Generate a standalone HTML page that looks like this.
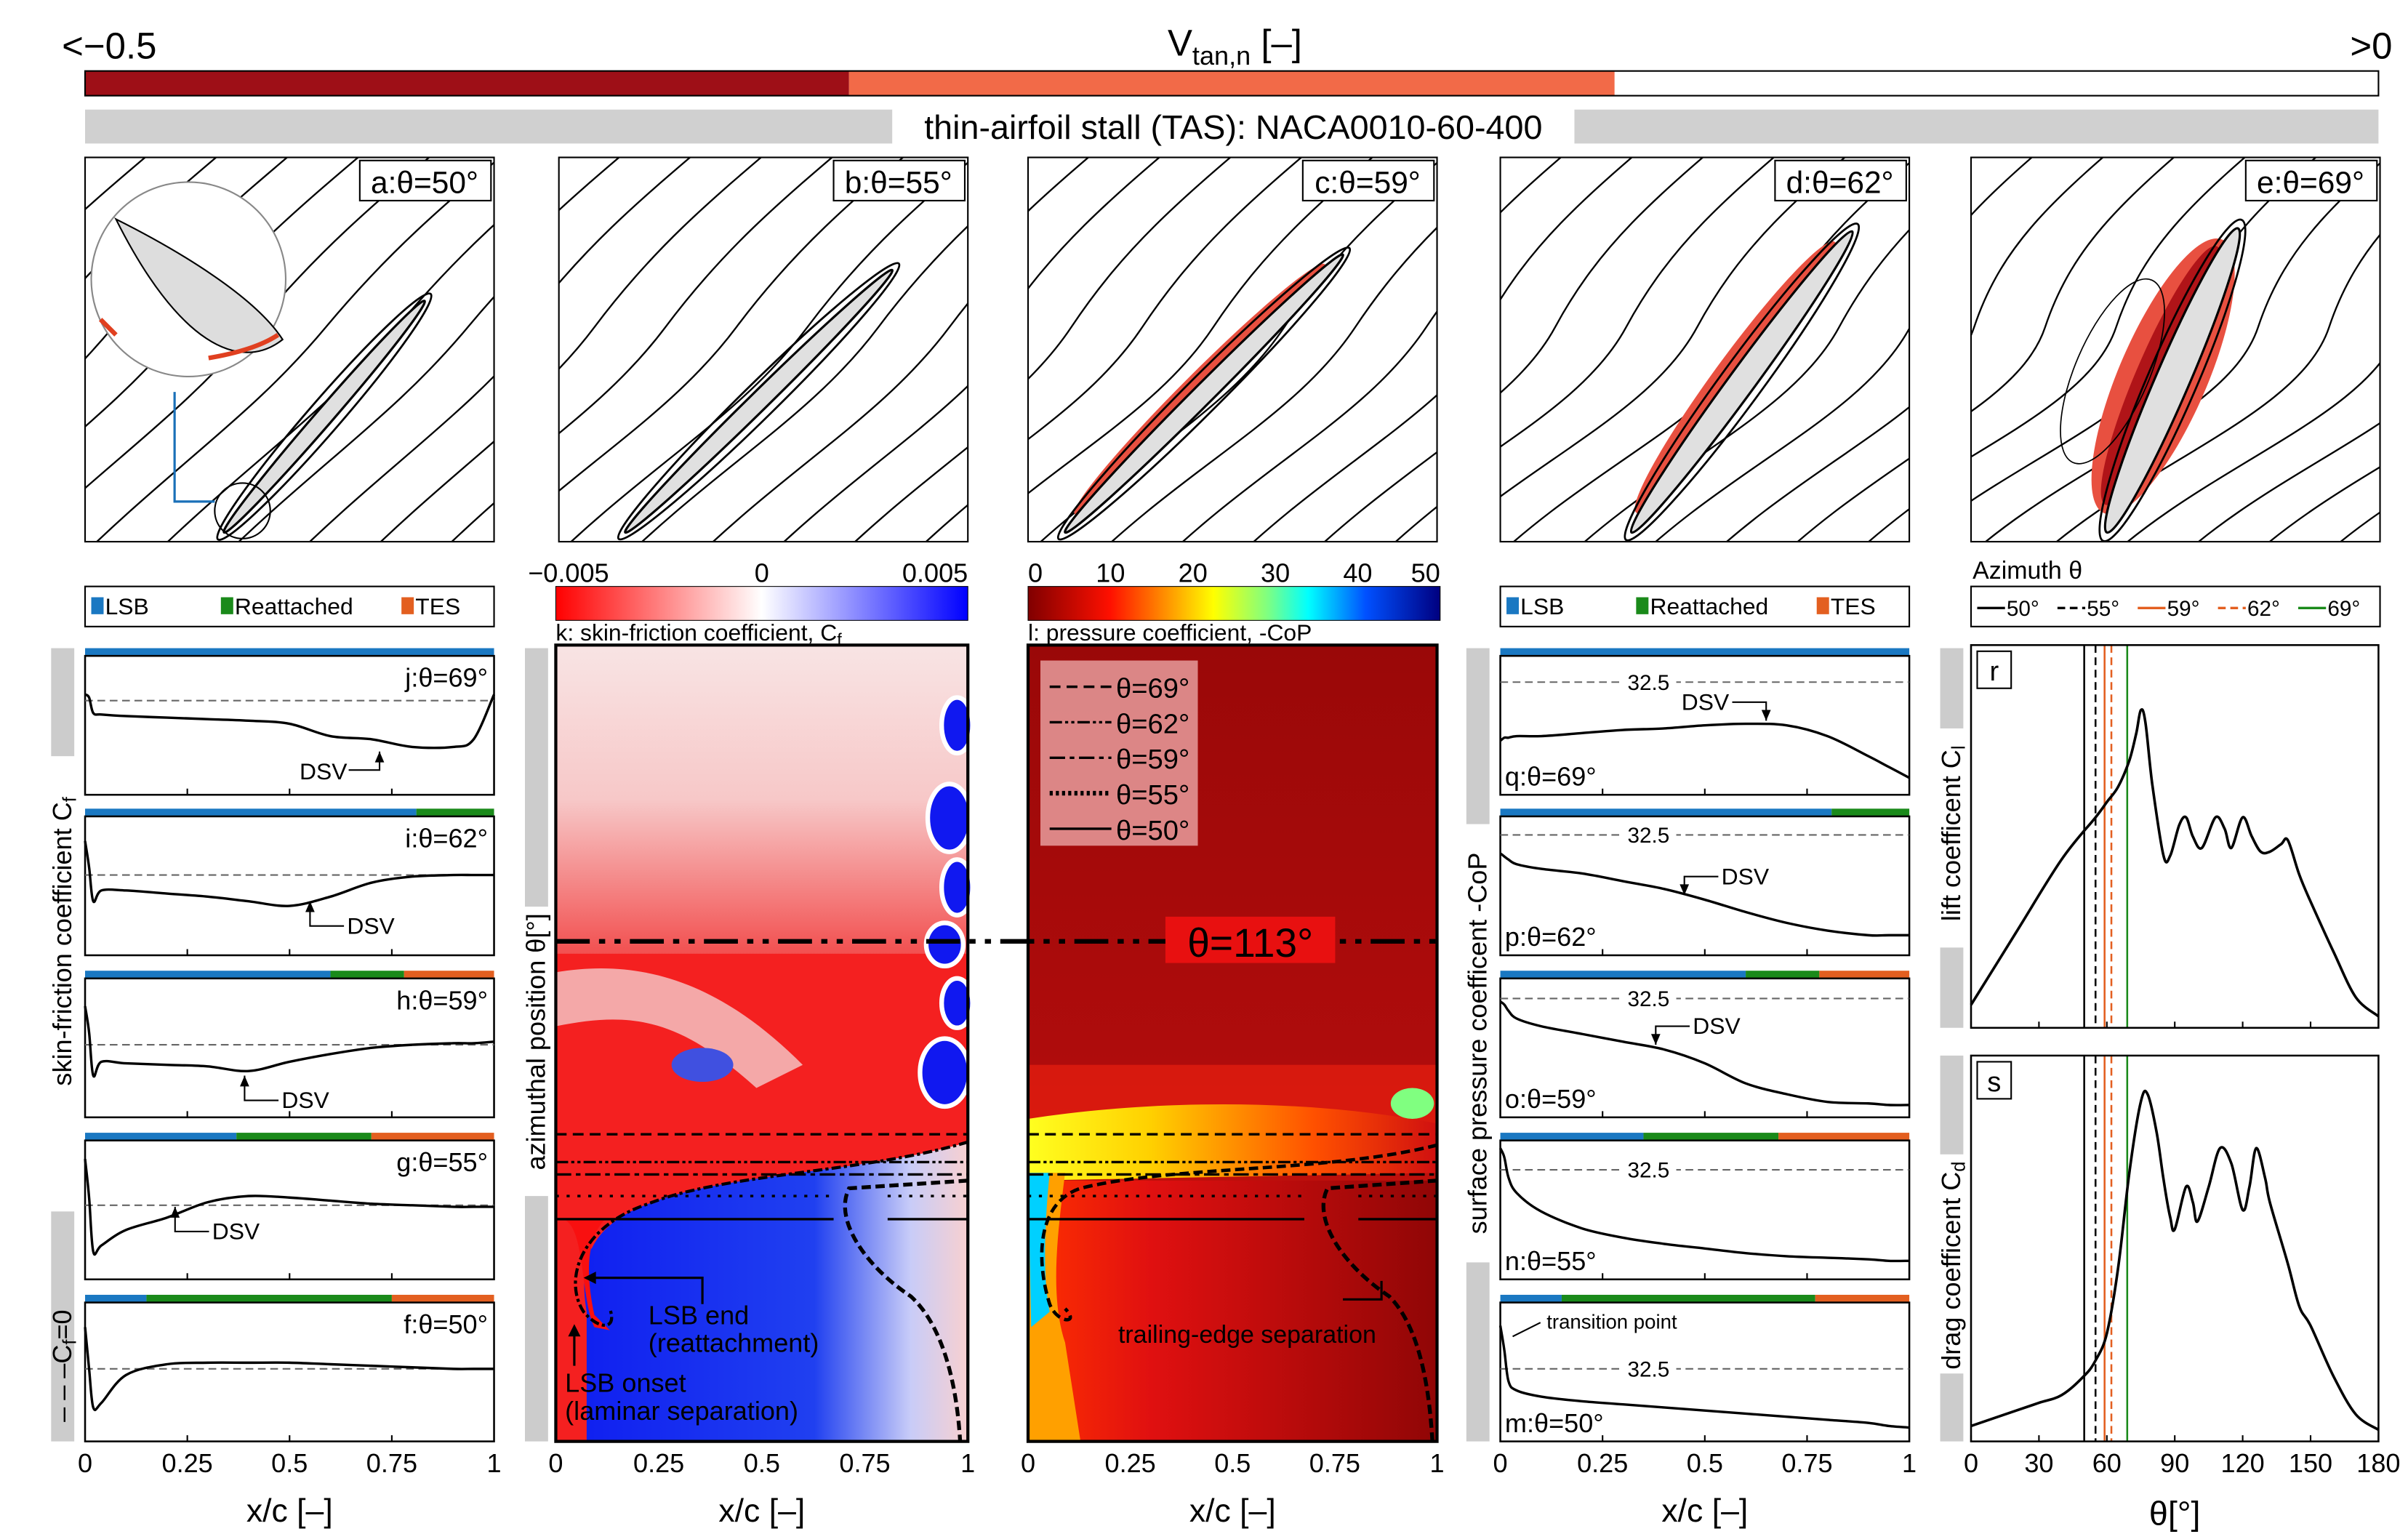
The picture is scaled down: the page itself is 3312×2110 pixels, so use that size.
<!DOCTYPE html>
<html><head><meta charset="utf-8"><style>
html,body{margin:0;padding:0;background:#fff}
svg{display:block;font-family:"Liberation Sans",sans-serif}
</style></head><body>
<svg id="fig" width="3312" height="2110" viewBox="0 0 1560 994" xmlns="http://www.w3.org/2000/svg">
<defs>
<linearGradient id="gCf" x1="0" x2="1" y1="0" y2="0"><stop offset="0" stop-color="#ff0000"/><stop offset="0.5" stop-color="#ffffff"/><stop offset="1" stop-color="#0000ff"/></linearGradient>
<linearGradient id="gCp" x1="0" x2="1"><stop offset="0" stop-color="#800000"/><stop offset="0.2" stop-color="#ff1000"/><stop offset="0.35" stop-color="#ffa000"/><stop offset="0.45" stop-color="#ffff00"/><stop offset="0.58" stop-color="#80ff80"/><stop offset="0.68" stop-color="#00ffff"/><stop offset="0.82" stop-color="#0050ff"/><stop offset="1" stop-color="#000080"/></linearGradient>
<linearGradient id="gKtop" x1="0" y1="0" x2="0" y2="1"><stop offset="0" stop-color="#f8e4e4"/><stop offset="0.5" stop-color="#f7c8c8"/><stop offset="1" stop-color="#f25050"/></linearGradient>
<linearGradient id="gKbot" x1="0" x2="1"><stop offset="0" stop-color="#1020f0"/><stop offset="0.6" stop-color="#2040f0"/><stop offset="0.85" stop-color="#c8ccf8"/><stop offset="1" stop-color="#f8d0d0"/></linearGradient>
<linearGradient id="gLtop" x1="0" y1="0" x2="0" y2="1"><stop offset="0" stop-color="#9a0808"/><stop offset="0.55" stop-color="#b00c0c"/><stop offset="1" stop-color="#e01a0a"/></linearGradient>
<linearGradient id="gLband" x1="0" x2="1"><stop offset="0" stop-color="#ffff20"/><stop offset="0.3" stop-color="#ffd000"/><stop offset="0.7" stop-color="#ff5000"/><stop offset="1" stop-color="#d01010"/></linearGradient>
<linearGradient id="gLbot" x1="0" x2="1"><stop offset="0" stop-color="#ff3000"/><stop offset="0.3" stop-color="#e01010"/><stop offset="1" stop-color="#900606"/></linearGradient>
</defs>
<g id="root"></g>
</svg>
<script>
// ---------- data ----------
const xSamples=[0,0.01,0.02,0.04,0.1,0.2,0.3,0.4,0.5,0.6,0.7,0.8,0.9,0.95,1];
const cfJ=[4,2,-8,-9,-10,-11,-12,-13,-15,-23,-25,-30,-30,-25,4];
const cfI=[22,5,-17,-10,-10,-12,-14,-17,-20,-14,-5,-1,0,0,0];
const cfH=[25,8,-20,-11,-12,-13,-14,-17,-11,-6,-2,0,1,1,2];
const cfG=[30,5,-30,-26,-16,-8,2,6,5,3,1,0,-1,-1,-1];
const cfF=[27,0,-25,-22,-4,3,4,4,4,3,2,1,0,0,0];
const cpQ=[-38,-36,-36,-35,-35,-33,-31,-30,-28,-27,-28,-35,-48,-55,-62];
const cpP=[-12,-14,-16,-19,-22,-25,-30,-35,-42,-50,-57,-62,-65,-65,-65];
const cpO=[-2,-4,-8,-13,-18,-23,-28,-33,-42,-55,-62,-67,-68,-69,-69];
const cpN=[14,8,-5,-15,-27,-38,-44,-48,-51,-54,-56,-57,-58,-59,-59];
const cpM=[28,12,-8,-14,-18,-21,-23,-25,-27,-29,-31,-33,-35,-37,-38];
const thetaR=[0,20,40,55,60,65,70,73,75,77,80,85,88,92,95,98,102,108,112,115,120,124,128,132,137,140,145,150,160,170,180];
const clVals=[0.06,0.25,0.44,0.55,0.59,0.63,0.70,0.77,0.83,0.80,0.64,0.45,0.45,0.53,0.55,0.50,0.47,0.55,0.52,0.47,0.55,0.50,0.46,0.46,0.48,0.49,0.40,0.33,0.20,0.08,0.03];
const thetaS=[0,20,30,40,50,55,60,65,70,75,78,82,85,88,90,95,98,100,105,110,115,120,123,126,130,132,140,145,150,160,170,180];
const cdVals=[0.04,0.08,0.10,0.12,0.17,0.21,0.28,0.45,0.70,0.88,0.90,0.80,0.68,0.58,0.55,0.66,0.62,0.57,0.66,0.76,0.72,0.60,0.66,0.76,0.68,0.62,0.46,0.35,0.30,0.17,0.07,0.03];
const snapTheta=[50,55,59,62,69];
const xTicks=["0","0.25","0.5","0.75","1"];
const thTicks=[0,30,60,90,120,150,180];
const cfTicks=["\u22120.005","0","0.005"];
const cpTicks=["0","10","20","30","40","50"];
const stripsCf=[[1,0,0],[0.81,0.19,0],[0.6,0.18,0.22],[0.37,0.33,0.3],[0.15,0.6,0.25]];
const stripsCp=[[1,0,0],[0.81,0.19,0],[0.6,0.18,0.22],[0.35,0.33,0.32],[0.15,0.62,0.23]];

// ---------- helpers ----------
const NS="http://www.w3.org/2000/svg";
const root=document.getElementById('root');
function mk(tag,at,parent){const e=document.createElementNS(NS,tag);for(const k in at)e.setAttribute(k,at[k]);(parent||root).appendChild(e);return e;}
function txt(x,y,s,size,anchor,parent,extra){const t=mk('text',Object.assign({x:x,y:y,'font-size':size,'text-anchor':anchor||'middle',fill:'#000'},extra||{}),parent);t.textContent=s;return t;}
function smooth(pts){let d='M'+pts[0][0].toFixed(1)+','+pts[0][1].toFixed(1);
  for(let i=0;i<pts.length-1;i++){const p0=pts[Math.max(0,i-1)],p1=pts[i],p2=pts[i+1],p3=pts[Math.min(pts.length-1,i+2)];
    const c1=[p1[0]+(p2[0]-p0[0])/6,p1[1]+(p2[1]-p0[1])/6],c2=[p2[0]-(p3[0]-p1[0])/6,p2[1]-(p3[1]-p1[1])/6];
    d+='C'+c1[0].toFixed(1)+','+c1[1].toFixed(1)+' '+c2[0].toFixed(1)+','+c2[1].toFixed(1)+' '+p2[0].toFixed(1)+','+p2[1].toFixed(1);}
  return d;}
const BLUE='#1a78c2',GREEN='#1a8a1a',ORANGE='#e35f20';

// ---------- header ----------
let e;
e=txt(800,36,'',24,'middle');
e.innerHTML='V<tspan font-size="17" dy="6">tan,n</tspan><tspan dy="-6"> [\u2013]</tspan>';
e=txt(40,38,'<\u22120.5',24,'start');
e=txt(1550,38,'>0',24,'end');
e=mk('rect',{x:55,y:46,width:495,height:16,fill:'#9e0f17'});
e=mk('rect',{x:550,y:46,width:496,height:16,fill:'#f26a48'});
e=mk('rect',{x:55,y:46,width:1486,height:16,fill:'none',stroke:'#000','stroke-width':1});
e=mk('rect',{x:55,y:71,width:1486,height:22,fill:'#d0d0d0'});
e=mk('rect',{x:578,y:70,width:442,height:24,fill:'#fff'});
e=txt(799,90,'thin-airfoil stall (TAS): NACA0010-60-400',22,'middle');

// ---------- snapshot panels ----------
const panelX=[55,362,666,972,1277];
const panelLbl=['a','b','c','d','e'];
const foils=[[90,243,220,93,11],[43,243,216,73,12],[24,243,204,63,13],[85,243,228,48,17],[88,243,173,46,22]];
const bend=[0,10,20,35,60];
panelX.forEach((px,i)=>{
  const g=mk('g',{transform:'translate('+px+',102)'});
  
  
  const cp=mk('clipPath',{id:'cp'+i},g);mk('rect',{x:0,y:0,width:265,height:249},cp);
  const inner=mk('g',{'clip-path':'url(#cp'+i+')'},g);
  for(let k=-5;k<10;k++){
    const x0=k*46-60;
    const s=mk('path',{d:'M'+x0+',270 C'+(x0+70)+','+(200)+' '+(x0+120+bend[i])+','+(170)+' '+(x0+170+bend[i]*0.5)+',110 S'+(x0+260)+',20 '+(x0+330)+',-40',fill:'none',stroke:'#000','stroke-width':1.1},inner);
    
    
  }
  const f=foils[i];const cx=(f[0]+f[2])/2,cy=(f[1]+f[3])/2;const L=Math.hypot(f[2]-f[0],f[3]-f[1]);const ang=Math.atan2(f[3]-f[1],f[2]-f[0])*180/Math.PI;
  const fg=mk('g',{transform:'translate('+cx+','+cy+') rotate('+ang+')'},inner);
  if(i>=2){e=mk('ellipse',{cx:0,cy:-f[4]*0.3,rx:L/2*0.9,ry:f[4]*(i==4?1.3:0.8),fill:'#e85040'},fg);}
  if(i==4){e=mk('ellipse',{cx:0,cy:-8,rx:L/2*0.85,ry:16,fill:'#b01418'},fg);
    e=mk('ellipse',{cx:-10,cy:-38,rx:L/2*0.6,ry:24,fill:'none',stroke:'#000','stroke-width':0.8},fg);}
  e=mk('ellipse',{cx:0,cy:0,rx:L/2+6,ry:f[4]/2+5,fill:'none',stroke:'#000','stroke-width':1.3},fg);
  e=mk('ellipse',{cx:0,cy:0,rx:L/2,ry:f[4]/2,fill:'#e0e0e0',stroke:'#000','stroke-width':1.5},fg);
  e=mk('rect',{x:0,y:0,width:265,height:249,fill:'none',stroke:'#000','stroke-width':1},g);
  e=mk('rect',{x:178,y:2,width:85,height:26,fill:'#fff',stroke:'#000','stroke-width':1},g);
  e=txt(220,23,panelLbl[i]+':\u03b8='+snapTheta[i]+'\u00b0',20,'middle',g);
  if(i==0){
    e=mk('circle',{cx:67,cy:79,r:63,fill:'#fff',stroke:'#888','stroke-width':1},g);
    e=mk('path',{d:'M20,40 C60,120 100,140 128,118 C110,90 60,60 20,40Z',fill:'#ddd',stroke:'#000'},g);
    e=mk('path',{d:'M10,105 l10,10 M80,130 q30,-5 45,-15',fill:'none',stroke:'#e04020','stroke-width':3},g);
    e=mk('circle',{cx:102,cy:229,r:18,fill:'none',stroke:'#000'},g);
    e=mk('path',{d:'M84,223 H58 V152',fill:'none',stroke:'#1a70b8','stroke-width':1.5},g);
  }
});

// ---------- legends ----------
function legendBox(x,names){
  const g=mk('g',{});
  mk('rect',{x:x,y:380,width:265,height:26,fill:'#fff',stroke:'#000'},g);
  const cols=[BLUE,GREEN,ORANGE],xs=[4,88,205];
  names.forEach((n,i)=>{const r=mk('rect',{x:x+xs[i],y:387,width:8,height:11,fill:cols[i]},g);
    const t=txt(x+xs[i]+9,398,n,15,'start',g);});
}
legendBox(55,['LSB','Reattached','TES']);
legendBox(972,['LSB','Reattached','TES']);
{const g=mk('g',{});
 e=txt(1278,375,'Azimuth \u03b8',16,'start',g);
 mk('rect',{x:1277,y:380,width:265,height:26,fill:'#fff',stroke:'#000'},g);
 const cols=['#000','#000',ORANGE,ORANGE,GREEN],dash=['','5,3','','5,3',''];
 snapTheta.forEach((t,i)=>{const x=1281+i*52;
   e=mk('line',{x1:x,y1:394,x2:x+18,y2:394,stroke:cols[i],'stroke-width':1.6,'stroke-dasharray':dash[i]},g);
   e=txt(x+19,399,t+'\u00b0',14,'start',g);});
}
function cbar(x,grad,ticks,name,title){
  const g=mk('g',{});
  mk('rect',{x:x,y:380,width:267,height:22,fill:'url(#'+grad+')',stroke:'#000','stroke-width':0.5},g);
  ticks.forEach((t,i)=>{const tx=x+i*267/(ticks.length-1);const tt=txt(tx,377,t,17,i==0?'start':(i==ticks.length-1?'end':'middle'),g);if(i==0&&name=='cf-colorbar')tt.setAttribute('x',x-18);});
  const tt=txt(x,415,'',15,'start',g);tt.innerHTML=title;
}
cbar(360,'gCf',cfTicks,'cf-colorbar','k: skin-friction coefficient, C<tspan font-size="11" dy="3">f</tspan>');
cbar(666,'gCp',cpTicks,'cp-colorbar','l: pressure coefficient, -CoP');

// ---------- small line plots ----------
const plotY=[420,524,629,734,839];
const cfSets=[cfJ,cfI,cfH,cfG,cfF],cfNames=['j','i','h','g','f'],cfZero=[34,43,48,47,48];
const cpSets=[cpQ,cpP,cpO,cpN,cpM],cpNames=['q','p','o','n','m'],cpZero=[22,17,18,24,48];
function smallPlot(x0,y0,vals,zero,strip,label,name,isCp){
  const W=265,H=95;
  const g=mk('g',{});
  const cols=[BLUE,GREEN,ORANGE];let sx=x0;
  strip.forEach((f,i)=>{if(f>0){const r=mk('rect',{x:sx,y:y0,width:f*W,height:5,fill:cols[i]},g);sx+=f*W;}});
  mk('rect',{x:x0,y:y0+5,width:W,height:H-5,fill:'none',stroke:'#000','stroke-width':1.2},g);
  const zy=y0+zero;
  const dl=mk('line',{x1:x0,y1:zy,x2:x0+W,y2:zy,stroke:'#666','stroke-dasharray':'5,3','stroke-width':1},g);
  if(isCp){mk('rect',{x:x0+78,y:zy-8,width:36,height:16,fill:'#fff'},g);const t=txt(x0+96,zy+5,'32.5',14,'middle',g);}
  const xs=v=>x0+v*W, ys=v=>zy-v;
  const p=mk('path',{d:smooth(xSamples.map((xv,i)=>[xs(xv),ys(vals[i])])),fill:'none',stroke:'#000','stroke-width':1.6,'stroke-linejoin':'round'},g);
  for(let k=1;k<4;k++){mk('line',{x1:x0+k*W/4,y1:y0+H,x2:x0+k*W/4,y2:y0+H-4,stroke:'#000'},g);}
  const t=txt(isCp?x0+3:x0+W-4,isCp?y0+H-6:y0+25,label,17,isCp?'start':'end',g);
  return {g,xs,ys,zy};
}
const cfDSV=[0.72,0.55,0.39,0.22,-1];
cfSets.forEach((v,i)=>{const r=smallPlot(55,plotY[i],v,cfZero[i],stripsCf[i],cfNames[i]+':\u03b8='+snapTheta[4-i]+'\u00b0','cf-plot-'+cfNames[i],false);
  if(cfDSV[i]>0){const xx=r.xs(cfDSV[i]);const idx=xSamples.findIndex(s=>s>=cfDSV[i]);const yy=r.ys(v[idx])+3;
   const a=mk('path',{d:'M'+xx+','+yy+' V'+(yy+(i==0?12:16))+' H'+(xx+(i==0?-20:22)),fill:'none',stroke:'#000'},r.g);
   mk('path',{d:'M'+xx+','+yy+' l-3,7 h6z',fill:'#000'},r.g);
   const t=txt(i==0?xx-21:xx+24,yy+(i==0?18:21),'DSV',15,i==0?'end':'start',r.g);}
});
const cpDSV=[0.65,0.45,0.38,-1,-1];
cpSets.forEach((v,i)=>{const r=smallPlot(972,plotY[i],v,cpZero[i],stripsCp[i],cpNames[i]+':\u03b8='+snapTheta[4-i]+'\u00b0','cp-plot-'+cpNames[i],true);
  if(cpDSV[i]>0){const xx=r.xs(cpDSV[i]);const idx=xSamples.findIndex(s=>s>=cpDSV[i]);const yy=r.ys(v[idx])-3;
   const a=mk('path',{d:'M'+xx+','+yy+' V'+(yy-12)+' H'+(xx+(i==0?-22:22)),fill:'none',stroke:'#000'},r.g);
   mk('path',{d:'M'+xx+','+yy+' l-3,-7 h6z',fill:'#000'},r.g);
   const t=txt(i==0?xx-24:xx+24,yy-7,'DSV',15,i==0?'end':'start',r.g);}
  if(i==4){const t=txt(1002,861,'transition point',13,'start',r.g);
    mk('line',{x1:998,y1:857,x2:980,y2:866,stroke:'#000'},r.g);}
});

// ---------- contour panels ----------
{const g=mk('g',{});
 const X0=360,W=267,Y0=418,Y1=934;
 mk('rect',{x:X0,y:Y0,width:W,height:Y1-Y0,fill:'#f42020'},g);
 mk('rect',{x:X0,y:Y0,width:W,height:200,fill:'url(#gKtop)'},g);
 mk('path',{d:'M360,630 C420,620 470,640 520,690 L490,705 C440,660 410,655 360,665Z',fill:'#f4a8a8'},g);
 mk('ellipse',{cx:455,cy:690,rx:20,ry:11,fill:'#4050e0'},g);
 [[620,470,10,18],[615,530,14,22],[620,575,10,18],[612,612,12,14],[620,650,10,16],[612,695,16,22]].forEach(b=>{const el=mk('ellipse',{cx:b[0],cy:b[1],rx:b[2],ry:b[3],fill:'#1018f0',stroke:'#fff','stroke-width':3},g);});
 mk('path',{d:'M627,740 C560,760 470,760 420,780 C380,795 375,820 380,850 L385,860 C400,870 420,860 395,845 L380,800 L380,934 L627,934Z',fill:'url(#gKbot)'},g);
 mk('path',{d:'M360,790 C380,785 375,840 385,860 L395,862 L385,852 C378,820 382,800 392,790 Z',fill:'#f81010'},g);
 mk('path',{d:'M627,740 C560,760 470,760 420,780 C375,795 365,830 378,850 C388,862 400,862 395,848',fill:'none',stroke:'#000','stroke-width':2,'stroke-dasharray':'6,2,2,2'},g);
 mk('path',{d:'M627,765 L550,770 C540,790 560,820 590,840 C612,860 620,900 622,934',fill:'none',stroke:'#000','stroke-width':2.5,'stroke-dasharray':'6,3'},g);
 [[735,'7,4'],[753,'8,2,2,2,2,2'],[761,'10,3,3,3'],[775,'2,5'],[790,'']].forEach(l=>{const el=mk('line',{x1:X0,y1:l[0],x2:l[0]>770?540:X0+W,y2:l[0],stroke:'#000','stroke-width':1.6,'stroke-dasharray':l[1]},g);
   if(l[0]>770){mk('line',{x1:575,y1:l[0],x2:X0+W,y2:l[0],stroke:'#000','stroke-width':1.6,'stroke-dasharray':l[1]},g);}});
 mk('rect',{x:X0,y:Y0,width:W,height:Y1-Y0,fill:'none',stroke:'#000','stroke-width':2},g);
 mk('path',{d:'M455,845 V828 H382',fill:'none',stroke:'#000','stroke-width':1.5},g);mk('path',{d:'M378,828 l8,-4 v8z',fill:'#000'},g);
 mk('path',{d:'M372,885 V862',fill:'none',stroke:'#000','stroke-width':1.5},g);mk('path',{d:'M372,858 l-4,8 h8z',fill:'#000'},g);
 e=txt(420,858,'LSB end',17,'start',g);
 e=txt(420,876,'(reattachment)',17,'start',g);
 e=txt(366,902,'LSB onset',17,'start',g);
 e=txt(366,920,'(laminar separation)',17,'start',g);
}
{const g=mk('g',{});
 const X0=666,W=265,Y0=418,Y1=934;
 mk('rect',{x:X0,y:Y0,width:W,height:Y1-Y0,fill:'url(#gLtop)'},g);
 mk('rect',{x:X0,y:690,width:W,height:50,fill:'#e82010',opacity:0.7},g);
 mk('path',{d:'M666,725 C750,712 850,712 931,728 L931,760 L666,765Z',fill:'url(#gLband)'},g);
 mk('ellipse',{cx:915,cy:715,rx:14,ry:10,fill:'#80ff80'},g);
 mk('rect',{x:X0,y:765,width:W,height:169,fill:'url(#gLbot)'},g);
 mk('path',{d:'M666,760 L690,760 C685,800 680,840 690,870 L700,934 L666,934Z',fill:'#ffa000'},g);
 mk('path',{d:'M666,760 L680,760 C676,800 676,830 680,850 L668,860Z',fill:'#00d0ff'},g);
 mk('path',{d:'M931,742 C860,760 760,755 700,770 C670,780 672,820 680,845 C685,858 700,858 690,848',fill:'none',stroke:'#000','stroke-width':2.2,'stroke-dasharray':'6,3'},g);
 mk('path',{d:'M931,765 L860,770 C850,790 870,820 900,840 C920,860 926,900 928,934',fill:'none',stroke:'#000','stroke-width':2.5,'stroke-dasharray':'6,3'},g);
 [[735,'7,4'],[753,'8,2,2,2,2,2'],[761,'10,3,3,3'],[775,'2,5'],[790,'']].forEach(l=>{const el=mk('line',{x1:X0,y1:l[0],x2:l[0]>770?845:X0+W,y2:l[0],stroke:'#000','stroke-width':1.6,'stroke-dasharray':l[1]},g);
   if(l[0]>770)mk('line',{x1:880,y1:l[0],x2:X0+W,y2:l[0],stroke:'#000','stroke-width':1.6,'stroke-dasharray':l[1]},g);});
 mk('rect',{x:X0,y:Y0,width:W,height:Y1-Y0,fill:'none',stroke:'#000','stroke-width':2},g);
 const lg=mk('g',{},g);
 mk('rect',{x:674,y:428,width:102,height:120,fill:'#f0b0b0',opacity:0.75},lg);
 const ld=['7,4','8,2,2,2,2,2','10,3,3,3','2,2',''],lt=[69,62,59,55,50];
 lt.forEach((t,i)=>{const y=445+i*23;mk('line',{x1:680,y1:y,x2:720,y2:y,stroke:'#000','stroke-width':i==3?3:1.6,'stroke-dasharray':ld[i]},lg);const tt=txt(723,y+7,'\u03b8='+t+'\u00b0',18,'start',lg);});
 mk('path',{d:'M870,842 H895 V830',fill:'none',stroke:'#000','stroke-width':1.5},g);
 e=txt(808,870,'trailing-edge separation',16,'middle',g);
}
e=mk('line',{x1:360,y1:610,x2:931,y2:610,stroke:'#000','stroke-width':3,'stroke-dasharray':'22,6,4,6,4,6'});
e=mk('rect',{x:755,y:594,width:110,height:30,fill:'#e81010'});
e=txt(810,620,'\u03b8=113\u00b0',26,'middle');

// ---------- x axes ----------
[55,360,666,972].forEach((x0,c)=>{const W=c==1?267:265;
  xTicks.forEach((t,i)=>{const tt=txt(x0+i*W/4,954,t,17,'middle');});
  const tt=txt(x0+W/2,986,'x/c [\u2013]',21,'middle');});

// ---------- side bars & y labels ----------
function side(x,segs,label,cy){segs.forEach(s=>{const r=mk('rect',{x:x,y:s[0],width:15,height:s[1]-s[0],fill:'#cccccc'});});
  mk('rect',{x:x-2,y:cy-label.w/2,width:19,height:label.w,fill:'#fff'});
  const t=txt(0,0,'',17,'middle',null,{transform:'translate('+(x+13)+','+cy+') rotate(-90)'});t.innerHTML=label.s;}
side(33,[[420,565],[785,934]],{s:'skin-friction coefficient C<tspan font-size="12" dy="3">f</tspan>',w:240},610);
{const t=txt(0,0,'',17,'middle',null,{transform:'translate(46,885) rotate(-90)'});t.innerHTML='\u2013 \u2013 \u2013C<tspan font-size="12" dy="3">f</tspan><tspan dy="-3">=0</tspan>';}
side(340,[[420,600],[775,934]],{s:'azimuthal position \u03b8[\u00b0]',w:175},675);
side(950,[[420,534],[818,934]],{s:'surface pressure coefficent  -CoP',w:280},676);
side(1257,[[420,472],[614,666],[684,748],[890,934]],{s:'lift coefficent  C<tspan font-size="12" dy="3">l</tspan>',w:135},540);
side(1257,[],{s:'drag coefficent  C<tspan font-size="12" dy="3">d</tspan>',w:130},820);

// ---------- r / s plots ----------
function bigPlot(y0,y1,th,vals,label,name){
  const X0=1277,W=264,H=y1-y0;
  const g=mk('g',{});
  const xs=t=>X0+t/180*W, ys=v=>y1-v*H;
  const cols=['#000','#000',ORANGE,ORANGE,GREEN],dash=['','5,3','','5,3',''];
  snapTheta.forEach((t,i)=>{const l=mk('line',{x1:xs(t),y1:y0,x2:xs(t),y2:y1,stroke:cols[i],'stroke-width':1.2,'stroke-dasharray':dash[i]},g);});
  const p=mk('path',{d:smooth(th.map((t,i)=>[xs(t),ys(vals[i])])),fill:'none',stroke:'#000','stroke-width':1.7,'stroke-linejoin':'round'},g);
  mk('rect',{x:X0,y:y0,width:W,height:H,fill:'none',stroke:'#000','stroke-width':1.2},g);
  thTicks.forEach(t=>mk('line',{x1:xs(t),y1:y1,x2:xs(t),y2:y1-4,stroke:'#000'},g));
  mk('rect',{x:X0+4,y:y0+4,width:22,height:24,fill:'#fff',stroke:'#000'},g);
  const t=txt(X0+15,y0+23,label,18,'middle',g);
}
bigPlot(418,666,thetaR,clVals,'r','lift-coefficient-plot');
bigPlot(684,934,thetaS,cdVals,'s','drag-coefficient-plot');
thTicks.forEach(t=>{const tt=txt(1277+t/180*264,954,String(t),17,'middle');});
e=txt(1409,988,'\u03b8[\u00b0]',22,'middle');
</script>
</body></html>
